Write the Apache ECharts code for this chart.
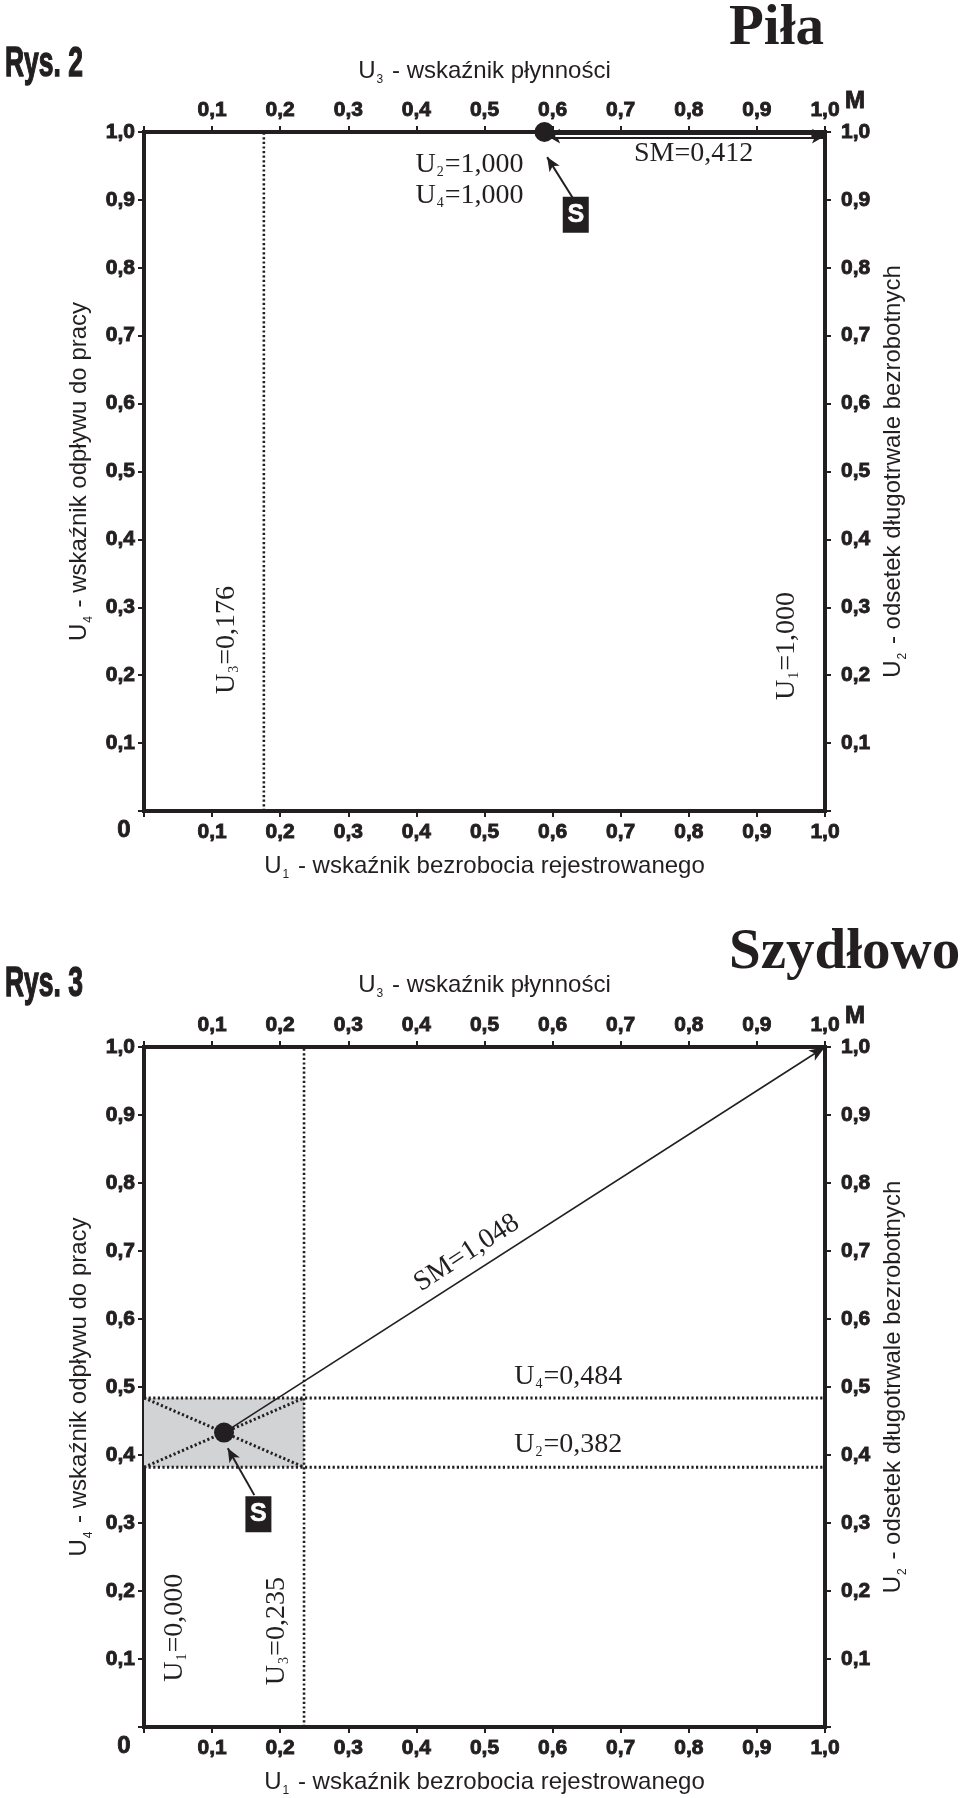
<!DOCTYPE html>
<html><head><meta charset="utf-8">
<script src="https://cdn.jsdelivr.net/npm/echarts/dist/echarts.min.js"></script>
<style>html,body{margin:0;padding:0;background:#fff}#c{width:960px;height:1798px}</style>
</head><body><div id="c"></div>
<script>
// ---------- data ----------
const tickLabels = ['0','0,1','0,2','0,3','0,4','0,5','0,6','0,7','0,8','0,9','1,0'];
const pilaU = [1.000, 1.000, 0.176, 1.000];      // U1, U2, U3, U4
const pilaS = [0.588, 1.000];
const pilaSM = 0.412;
const szydU = [0.000, 0.382, 0.235, 0.484];      // U1, U2, U3, U4
const szydS = [0.1175, 0.433];
const szydSM = 1.048;
const pointM = [1, 1];

// ---------- styles ----------
const INK = '#231f20';
const COND = '"Liberation Sans Narrow", "Arial Narrow", sans-serif';
const SANS = '"Liberation Sans", Arial, sans-serif';
const SERIF = '"Liberation Serif", "Times New Roman", serif';

const fmt = v => tickLabels[Math.round(v * 10)];
const num = v => v.toFixed(3).replace('.', ',');
const noZero = v => (Math.abs(v) < 1e-9 ? '' : fmt(v));

const nameRich = {
  a: {fontFamily: SANS, fontSize: 24, color: INK, lineHeight: 30},
  s: {fontFamily: SANS, fontSize: 12, color: INK, lineHeight: 10, verticalAlign: 'bottom', padding: [0, 2, 0, 1]}
};
const serifRich = {
  u: {fontFamily: SERIF, fontSize: 28, color: INK, lineHeight: 30, opacity: 1},
  s: {fontFamily: SERIF, fontSize: 14, color: INK, lineHeight: 12, verticalAlign: 'bottom', padding: [0, 1, 0, 1], opacity: 1}
};
const sub = (i, rest) => '{u|U}{s|' + i + '}{u|' + rest + '}';
const nm = (i, rest) => '{a|U}{s|' + i + '}{a|' + rest + '}';

const heavy = {fontFamily: COND, fontWeight: 'bold', color: INK, textBorderColor: INK, textBorderWidth: 0.9};

function axis(grid, position, name, gap, margin, rotate) {
  const o = {
    type: 'value', gridIndex: grid, position: position, min: 0, max: 1, interval: 0.1,
    axisLine: {show: true, onZero: false, lineStyle: {color: INK, width: 4, cap: 'square'}},
    axisTick: {show: true, inside: false, length: 6, lineStyle: {color: INK, width: 2}},
    splitLine: {show: false},
    axisLabel: Object.assign({show: true, formatter: noZero, margin: margin, fontSize: 21,
      showMinLabel: true, showMaxLabel: true, hideOverlap: false}, heavy),
    name: name, nameLocation: 'middle', nameGap: gap,
    nameTextStyle: {rich: nameRich}
  };
  if (rotate !== undefined) o.nameRotate = rotate;
  return o;
}

const xAxes = [], yAxes = [];
[0, 1].forEach(g => {
  xAxes.push(axis(g, 'bottom', nm(1, ' - wskaźnik bezrobocia rejestrowanego'), 40, 11));
  xAxes.push(axis(g, 'top', nm(3, ' - wskaźnik płynności'), g === 0 ? 46 : 47, 11));
  yAxes.push(axis(g, 'left', nm(4, ' - wskaźnik odpływu do pracy'), 46, 9, 90));
  yAxes.push(axis(g, 'right', nm(2, ' - odsetek długotrwale bezrobotnych'), 48, 16, 90));
});

const series = [];
const ax = g => ({xAxisIndex: g * 2, yAxisIndex: g * 2});

function dotted(g, pts, w) {
  series.push(Object.assign({type: 'line', data: pts, showSymbol: false, symbol: 'none', silent: true,
    z: 3, lineStyle: {color: INK, width: w || 2.6, type: [2.2, 2.4], cap: 'butt'}}, ax(g)));
}
function arrow(g, from, to, w, syms, size, color, z) {
  series.push(Object.assign({type: 'line', data: [], silent: true, z: z || 4,
    markLine: {silent: true, animation: false, symbol: syms, symbolSize: size,
      label: {show: false}, emphasis: {disabled: true},
      itemStyle: {color: color || INK, opacity: 1},
      lineStyle: {color: color || INK, width: w, type: 'solid', opacity: 1},
      data: [[{coord: from}, {coord: to}]]}}, ax(g)));
}
function texts(g, items) {
  series.push(Object.assign({type: 'scatter', symbolSize: 0, silent: true, z: 6,
    itemStyle: {opacity: 1},
    label: {show: true, position: 'inside', color: INK, opacity: 1, rich: serifRich},
    data: items.map(it => ({value: it.p, label: {formatter: it.t, rotate: it.r || 0}}))}, ax(g)));
}
function corner(g) {
  series.push(Object.assign({type: 'scatter', symbolSize: 0, silent: true, z: 6,
    itemStyle: {opacity: 1},
    data: [
      {value: [0, 0], label: Object.assign({show: true, formatter: tickLabels[0], offset: [-20, 19],
        fontSize: 24, opacity: 1}, heavy)},
      {value: pointM, label: Object.assign({show: true, formatter: 'M', offset: [30, -31],
        fontSize: 24, opacity: 1}, heavy)}
    ]}, ax(g)));
}
function sPoint(g, s, box) {
  series.push(Object.assign({type: 'scatter', silent: true, z: 7, symbol: 'circle', symbolSize: 20,
    itemStyle: {color: INK, opacity: 1}, data: [s]}, ax(g)));
  series.push(Object.assign({type: 'scatter', silent: true, z: 7, symbol: 'rect', symbolSize: [26, 36],
    itemStyle: {color: INK, opacity: 1},
    label: {show: true, position: 'inside', formatter: 'S', color: '#fff', fontFamily: COND,
      fontWeight: 'bold', fontSize: 25, opacity: 1, textBorderColor: '#fff', textBorderWidth: 0.6},
    data: [box]}, ax(g)));
}

// ----- Rys. 2 : Piła -----
dotted(0, [[pilaU[2], 0], [pilaU[2], 1]]);
const drop = 0.994;
arrow(0, [pilaS[0] + 0.004, drop], [pointM[0], drop], 6, ['arrow', 'arrow'], [11, 13], INK, 4);
arrow(0, [pilaS[0] + 0.016, drop], [pointM[0] - 0.02, drop], 2, ['none', 'none'], 4, '#ffffff', 5);
arrow(0, [0.629, 0.904], [0.592, 0.963], 2, ['none', 'arrow'], [9, 14]);
sPoint(0, pilaS, [0.634, 0.878]);
texts(0, [
  {p: [0.478, 0.952], t: sub(2, '=' + num(pilaU[1]))},
  {p: [0.478, 0.906], t: sub(4, '=' + num(pilaU[3]))},
  {p: [0.807, 0.968], t: '{u|SM=' + num(pilaSM) + '}'},
  {p: [0.121, 0.252], t: sub(3, '=' + num(pilaU[2])), r: 90},
  {p: [0.943, 0.243], t: sub(1, '=' + num(pilaU[0])), r: 90}
]);
corner(0);

// ----- Rys. 3 : Szydłowo -----
series.push(Object.assign({type: 'line', data: [], silent: true, z: 1,
  markArea: {silent: true, itemStyle: {color: '#d2d3d5', opacity: 1}, label: {show: false},
    data: [[{coord: [szydU[0], szydU[1]]}, {coord: [szydU[2], szydU[3]]}]]}}, ax(1)));
dotted(1, [[szydU[2], 0], [szydU[2], 1]]);
dotted(1, [[0, szydU[3]], [1, szydU[3]]], 3);
dotted(1, [[0, szydU[1]], [1, szydU[1]]], 3);
dotted(1, [[szydU[0], szydU[1]], [szydU[2], szydU[3]]], 3);
dotted(1, [[szydU[0], szydU[3]], [szydU[2], szydU[1]]], 3);
arrow(1, szydS, pointM, 1.6, ['none', 'arrow'], [9, 16]);
arrow(1, [0.162, 0.341], [0.123, 0.410], 2, ['none', 'arrow'], [9, 14]);
sPoint(1, szydS, [0.168, 0.313]);
texts(1, [
  {p: [0.474, 0.697], t: '{u|SM=' + num(szydSM) + '}', r: 33},
  {p: [0.623, 0.515], t: sub(4, '=' + num(szydU[3]))},
  {p: [0.623, 0.415], t: sub(2, '=' + num(szydU[1]))},
  {p: [0.045, 0.146], t: sub(1, '=' + num(szydU[0])), r: 90},
  {p: [0.195, 0.141], t: sub(3, '=' + num(szydU[2])), r: 90}
]);
corner(1);

const graphic = [
  {type: 'text', x: 729, y: 29, style: {text: 'Piła', font: 'bold 57px ' + SERIF, fill: INK, verticalAlign: 'middle', align: 'left'}},
  {type: 'text', x: 729, y: 953, style: {text: 'Szydłowo', font: 'bold 57px ' + SERIF, fill: INK, verticalAlign: 'middle', align: 'left'}},
  {type: 'text', x: 5, y: 64, scaleX: 0.63, style: {text: 'Rys. 2', font: 'bold 42px ' + COND, fill: INK, stroke: INK, lineWidth: 1.4, verticalAlign: 'middle', align: 'left'}},
  {type: 'text', x: 5, y: 984, scaleX: 0.63, style: {text: 'Rys. 3', font: 'bold 42px ' + COND, fill: INK, stroke: INK, lineWidth: 1.4, verticalAlign: 'middle', align: 'left'}}
];

const chart = echarts.init(document.getElementById('c'), null, {renderer: 'canvas', width: 960, height: 1798});
chart.setOption({
  backgroundColor: '#ffffff',
  animation: false,
  grid: [
    {left: 144, top: 132, width: 681, height: 679, containLabel: false},
    {left: 144, top: 1047, width: 681, height: 680, containLabel: false}
  ],
  xAxis: xAxes,
  yAxis: yAxes,
  graphic: graphic,
  series: series
});
</script>
</body></html>
